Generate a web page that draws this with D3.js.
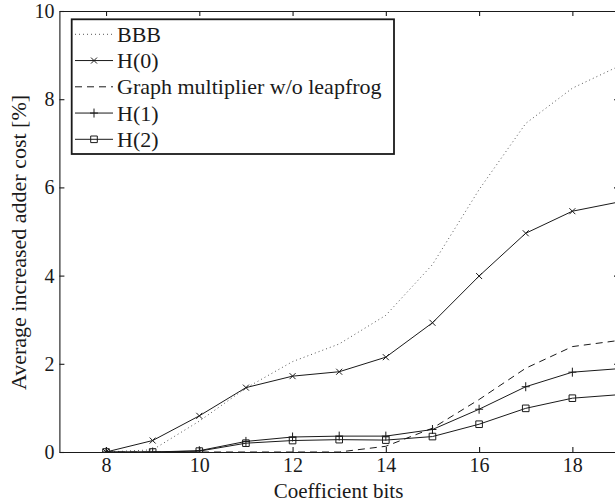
<!DOCTYPE html>
<html>
<head>
<meta charset="utf-8">
<script src="https://cdn.jsdelivr.net/npm/d3@7"></script>
<style>
  body { margin: 0; background: #fff; }
  svg { display: block; }
</style>
</head>
<body>
<svg id="chart" width="615" height="503"></svg>
<script>
// values
const bits = [8, 9, 10, 11, 12, 13, 14, 15, 16, 17, 18, 19];
const bbb = [0, 0.05, 0.7, 1.45, 2.05, 2.45, 3.1, 4.25, 5.95, 7.45, 8.25, 8.75];
const h0 = [0, 0.26, 0.82, 1.46, 1.72, 1.82, 2.15, 2.93, 3.99, 4.96, 5.46, 5.67];
const graphMult = [0, 0, 0, 0, 0, 0, 0.13, 0.54, 1.19, 1.9, 2.39, 2.53];
const h1 = [0, 0, 0.03, 0.24, 0.34, 0.36, 0.36, 0.51, 0.97, 1.48, 1.81, 1.89];
const h2 = [0, 0, 0.02, 0.2, 0.26, 0.28, 0.27, 0.35, 0.63, 0.99, 1.22, 1.3];
const xTicks = [8, 10, 12, 14, 16, 18];
const yTicks = [0, 2, 4, 6, 8, 10];
const seriesNames = ["BBB", "H(0)", "Graph multiplier w/o leapfrog", "H(1)", "H(2)"];

const ink = "#1a1a1a";
const serif = "'Liberation Serif', Tinos, 'Times New Roman', 'DejaVu Serif', serif";
const svg = d3.select("#chart");

const x = d3.scaleLinear().domain([7, 19]).range([59.4, 619]);
const y = d3.scaleLinear().domain([0, 10]).range([452, 11]);

// series table built from the arrays
const series = [
  { name: seriesNames[0], vals: bbb, dash: "1,3", marker: null, color: "#555" },
  { name: seriesNames[1], vals: h0, dash: null, marker: "x", color: ink },
  { name: seriesNames[2], vals: graphMult, dash: "7,5", marker: null, color: ink },
  { name: seriesNames[3], vals: h1, dash: null, marker: "plus", color: ink },
  { name: seriesNames[4], vals: h2, dash: null, marker: "square", color: ink }
];

const markerPath = {
  x: "M-3,-3L3,3M-3,3L3,-3",
  plus: "M-4,0L4,0M0,-4.5L0,4.5",
  square: "M-3.3,-3.3H3.3V3.3H-3.3Z"
};

svg.append("defs").append("clipPath").attr("id", "plotclip")
  .append("rect")
  .attr("x", x(7)).attr("y", y(10))
  .attr("width", x(19) - x(7)).attr("height", y(0) - y(10));

// axes, ticks pointing inward on all four sides
const fontTick = "20px";

const axBottom = svg.append("g")
  .attr("transform", `translate(0,${y(0)})`)
  .call(d3.axisBottom(x).tickValues(xTicks).tickSizeInner(-5).tickSizeOuter(0).tickPadding(6));
const axTop = svg.append("g")
  .attr("transform", `translate(0,${y(10)})`)
  .call(d3.axisTop(x).tickValues(xTicks).tickSizeInner(-5).tickSizeOuter(0).tickFormat(""));
const axLeft = svg.append("g")
  .attr("transform", `translate(${x(7)},0)`)
  .call(d3.axisLeft(y).tickValues(yTicks).tickSizeInner(-5).tickSizeOuter(0).tickPadding(5));
const axRight = svg.append("g")
  .attr("transform", `translate(${x(19)},0)`)
  .call(d3.axisRight(y).tickValues(yTicks).tickSizeInner(-5).tickSizeOuter(0).tickFormat(""));

[axBottom, axTop, axLeft, axRight].forEach(g => {
  g.attr("font-family", serif).attr("font-size", fontTick);
  g.selectAll("path, line").attr("stroke", ink).attr("stroke-width", 1.1);
  g.selectAll("text").attr("fill", ink);
});

// lines
const line = d3.line()
  .x((d, i) => x(bits[i]))
  .y(d => y(d));

const plot = svg.append("g").attr("clip-path", "url(#plotclip)");

series.forEach(s => {
  plot.append("path")
    .datum(s.vals)
    .attr("fill", "none")
    .attr("stroke", s.color)
    .attr("stroke-width", 1)
    .attr("stroke-dasharray", s.dash)
    .attr("d", line);
  if (s.marker) {
    plot.append("g")
      .selectAll("path")
      .data(s.vals)
      .join("path")
      .attr("transform", (d, i) => `translate(${x(bits[i])},${y(d)})`)
      .attr("d", markerPath[s.marker])
      .attr("fill", "none")
      .attr("stroke", s.color)
      .attr("stroke-width", 1);
  }
});

// axis labels
svg.append("text")
  .attr("x", 338.5)
  .attr("y", 498)
  .attr("text-anchor", "middle")
  .attr("fill", ink)
  .attr("font-family", serif)
  .attr("font-size", "21px")
  .text("Coefficient bits");

svg.append("text")
  .attr("transform", "translate(26,242.5) rotate(-90)")
  .attr("text-anchor", "middle")
  .attr("fill", ink)
  .attr("font-family", serif)
  .attr("font-size", "22px")
  .text("Average increased adder cost [%]");

// legend
const legend = svg.append("g");
legend.append("rect")
  .attr("x", 71.7).attr("y", 19.3)
  .attr("width", 394 - 71.7).attr("height", 154 - 19.3)
  .attr("fill", "#fff")
  .attr("stroke", ink)
  .attr("stroke-width", 1.8);

const rowY = d3.scaleLinear().domain([0, 4]).range([34.3, 139.3]);

series.forEach((s, i) => {
  const ly = rowY(i);
  legend.append("line")
    .attr("x1", 75).attr("x2", 113)
    .attr("y1", ly).attr("y2", ly)
    .attr("stroke", s.color)
    .attr("stroke-width", 1)
    .attr("stroke-dasharray", s.dash);
  if (s.marker) {
    legend.append("path")
      .attr("transform", `translate(94,${ly})`)
      .attr("d", markerPath[s.marker])
      .attr("fill", "none")
      .attr("stroke", s.color)
      .attr("stroke-width", 1);
  }
  legend.append("text")
    .attr("x", 117)
    .attr("y", ly + 7.5)
    .attr("fill", ink)
    .attr("font-family", serif)
    .attr("font-size", "22px")
    .text(s.name);
});
</script>
</body>
</html>
